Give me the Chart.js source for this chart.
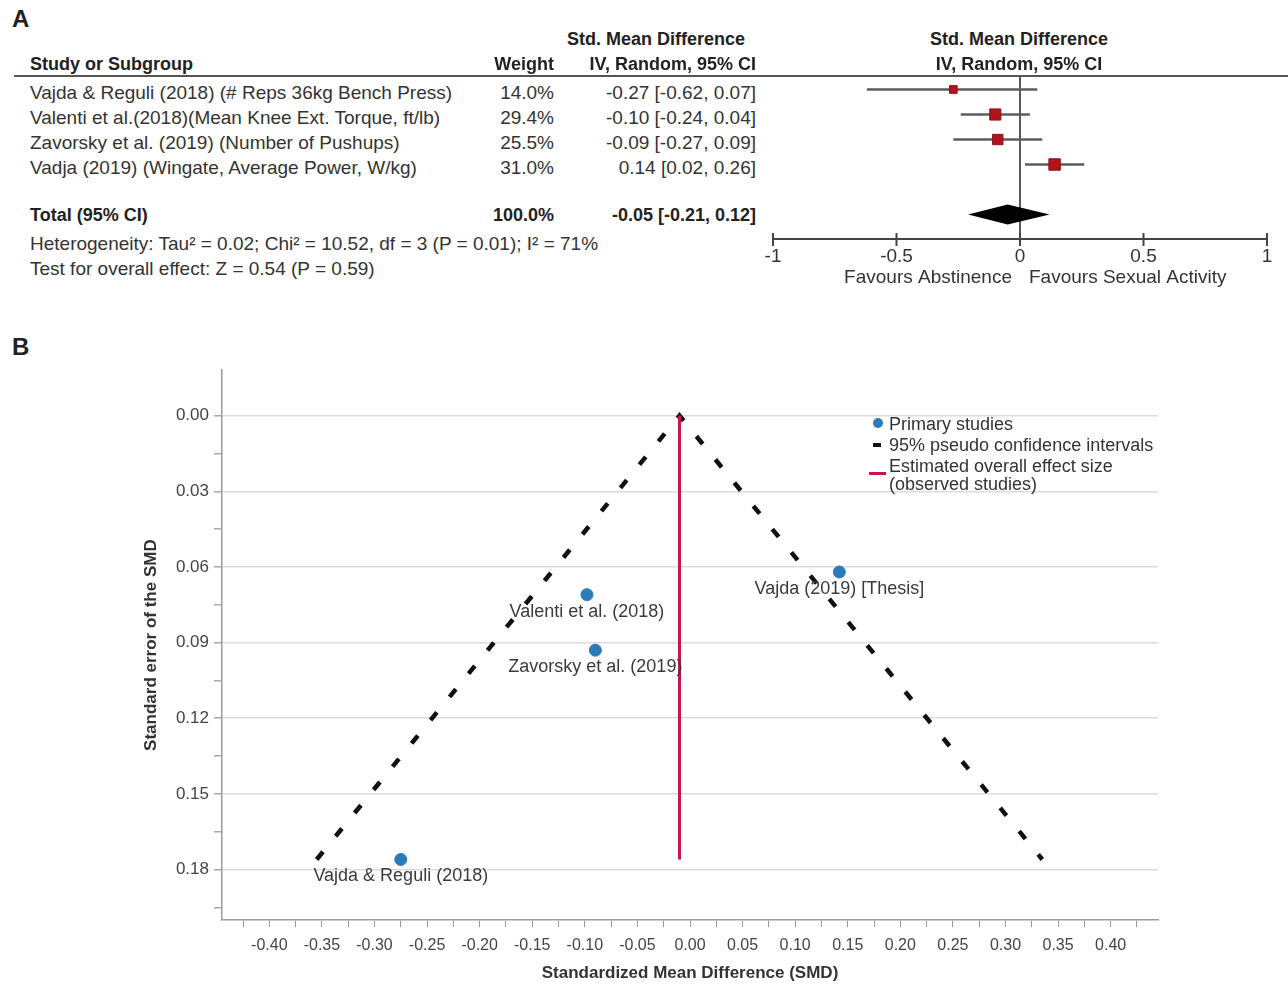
<!DOCTYPE html>
<html>
<head>
<meta charset="utf-8">
<script src="https://cdn.jsdelivr.net/npm/chart.js@4.4.1/dist/chart.umd.min.js"></script>
<style>
  body { margin: 0; background: #fff; width: 1288px; height: 986px; overflow: hidden; position: relative;
         font-family: "Liberation Sans", Arial, sans-serif; color: #333; }
  .t { position: absolute; white-space: nowrap; font-size: 19px; line-height: 20px; }
  .b { font-weight: bold; color: #222; font-size: 18px; }
  .lg { font-size: 18px; }
  canvas { position: absolute; }
  .mk { position: absolute; }
</style>
</head>
<body>
<canvas id="forest" width="528" height="240" style="left:760px;top:60px;width:528px;height:240px"></canvas>
<canvas id="funnel" width="1158" height="631" style="left:130px;top:355px;width:1158px;height:631px"></canvas>

<div class="mk" style="left:873px;top:418px;width:10px;height:10px;border-radius:50%;background:#2b7bba"></div>
<div class="mk" style="left:873px;top:443px;width:8px;height:4px;background:#111"></div>
<div class="mk" style="left:869px;top:472px;width:17px;height:3px;background:#c8174a"></div>

<script>
// ---- panel A: forest plot data
const studyNames = [
    'Vajda & Reguli (2018) (# Reps 36kg Bench Press)',
    'Valenti et al.(2018)(Mean Knee Ext. Torque, ft/lb)',
    'Zavorsky et al. (2019) (Number of Pushups)',
    'Vadja (2019) (Wingate, Average Power, W/kg)'
];
const weights = [14.0, 29.4, 25.5, 31.0];
const smd = [-0.27, -0.10, -0.09, 0.14];
const ciLow = [-0.62, -0.24, -0.27, 0.02];
const ciHigh = [0.07, 0.04, 0.09, 0.26];
const totalSmd = -0.05;
const totalLow = -0.21;
const totalHigh = 0.12;
const forestTicks = [-1, -0.5, 0, 0.5, 1];
const forestTickLabels = ['-1', '-0.5', '0', '0.5', '1'];

// ---- panel B: funnel plot data
const funnelLabels = ['Vajda & Reguli (2018)', 'Valenti et al. (2018)', 'Zavorsky et al. (2019)', 'Vajda (2019) [Thesis]'];
const funnelSmd = [-0.275, -0.098, -0.09, 0.142];
const funnelSe = [0.176, 0.071, 0.093, 0.062];
const pseudoX = [-0.355, -0.01, 0.335];
const pseudoY = [0.176, 0, 0.176];
const overallX = [-0.01, -0.01];
const overallY = [0, 0.176];

// ---- text of panel A
function txt(html, x, cy, opts) {
    opts = opts || {};
    const d = document.createElement('div');
    d.className = 't' + (opts.bold ? ' b' : '') + (opts.cls ? ' ' + opts.cls : '');
    d.innerHTML = html;
    d.style.top = (cy - 10) + 'px';
    if (opts.align === 'right') {
        d.style.right = (1288 - x) + 'px';
    } else if (opts.align === 'center') {
        d.style.left = (x - 200) + 'px';
        d.style.width = '400px';
        d.style.textAlign = 'center';
    } else {
        d.style.left = x + 'px';
    }
    if (opts.size) { d.style.fontSize = opts.size + 'px'; d.style.lineHeight = (opts.size + 2) + 'px'; d.style.top = (cy - opts.size / 2 - 1) + 'px'; }
    document.body.appendChild(d);
}

function fmt(v) { return v.toFixed(2); }

txt('A', 12, 19, {bold: true, size: 24});
txt('B', 12, 347, {bold: true, size: 24});
txt('Std. Mean Difference', 656, 39, {bold: true, align: 'center'});
txt('Std. Mean Difference', 1019, 39, {bold: true, align: 'center'});
txt('Study or Subgroup', 30, 64, {bold: true});
txt('Weight', 554, 64, {bold: true, align: 'right'});
txt('IV, Random, 95% CI', 756, 64, {bold: true, align: 'right'});
txt('IV, Random, 95% CI', 1019, 64, {bold: true, align: 'center'});

studyNames.forEach(function (name, i) {
    const cy = 93 + i * 25;
    txt(name.replace('&', '&amp;'), 30, cy);
    txt(weights[i].toFixed(1) + '%', 554, cy, {align: 'right'});
    txt(fmt(smd[i]) + ' [' + fmt(ciLow[i]) + ', ' + fmt(ciHigh[i]) + ']', 756, cy, {align: 'right'});
});
txt('Total (95% CI)', 30, 215, {bold: true});
txt('100.0%', 554, 215, {bold: true, align: 'right'});
txt(fmt(totalSmd) + ' [' + fmt(totalLow) + ', ' + fmt(totalHigh) + ']', 756, 215, {bold: true, align: 'right'});
txt('Heterogeneity: Tau² = 0.02; Chi² = 10.52, df = 3 (P = 0.01); I² = 71%', 30, 244);
txt('Test for overall effect: Z = 0.54 (P = 0.59)', 30, 269);

// header rule
const rule = document.createElement('div');
rule.className = 'mk';
rule.style.cssText = 'left:14px;top:75px;width:1274px;height:2px;background:#555';
document.body.appendChild(rule);

// legend of panel B
txt('Primary studies', 889, 424, {cls: 'lg'});
txt('95% pseudo confidence intervals', 889, 445, {cls: 'lg'});
txt('Estimated overall effect size', 889, 466, {cls: 'lg'});
txt('(observed studies)', 889, 484, {cls: 'lg'});

// ---- forest plot
const forestDecor = {
    id: 'forestDecor',
    beforeDatasetsDraw(chart) {
        const {ctx, chartArea, scales: {x}} = chart;
        const x0 = x.getPixelForValue(0);
        const yb = chartArea.bottom;
        ctx.save();
        ctx.strokeStyle = '#222';
        ctx.lineWidth = 1.5;
        ctx.beginPath();
        ctx.moveTo(x0, chartArea.top);
        ctx.lineTo(x0, yb);
        ctx.stroke();

        ctx.strokeStyle = '#444';
        ctx.lineWidth = 2;
        ctx.beginPath();
        ctx.moveTo(x.getPixelForValue(forestTicks[0]), yb);
        ctx.lineTo(x.getPixelForValue(forestTicks[forestTicks.length - 1]), yb);
        forestTicks.forEach(function (t) {
            const px = x.getPixelForValue(t);
            ctx.moveTo(px, yb - 6);
            ctx.lineTo(px, yb + 7);
        });
        ctx.stroke();

        ctx.fillStyle = '#333';
        ctx.font = '19px "Liberation Sans", Arial, sans-serif';
        ctx.textBaseline = 'middle';
        ctx.textAlign = 'center';
        forestTicks.forEach(function (t, i) {
            ctx.fillText(forestTickLabels[i], x.getPixelForValue(t), yb + 18);
        });
        ctx.textAlign = 'right';
        ctx.fillText('Favours Abstinence', x0 - 8, yb + 39);
        ctx.textAlign = 'left';
        ctx.fillText('Favours Sexual Activity', x0 + 9, yb + 39);
        ctx.restore();
    },
    afterDatasetsDraw(chart) {
        const {ctx, scales: {x, y}} = chart;
        const cy = y.getPixelForValue(studyNames.length + 2);
        ctx.save();
        ctx.fillStyle = '#000';
        ctx.beginPath();
        ctx.moveTo(x.getPixelForValue(totalLow), cy);
        ctx.lineTo(x.getPixelForValue(totalSmd), cy - 10);
        ctx.lineTo(x.getPixelForValue(totalHigh), cy);
        ctx.lineTo(x.getPixelForValue(totalSmd), cy + 10);
        ctx.closePath();
        ctx.fill();
        ctx.restore();
    }
};

const forestSets = [{
    type: 'scatter',
    data: smd.map(function (v, i) { return {x: v, y: i + 1}; }),
    pointStyle: 'rect',
    pointRadius: weights.map(function (w) { return 1.45 * Math.sqrt(w); }),
    backgroundColor: '#b3141c',
    borderColor: '#8a1016',
    borderWidth: 1
}];
studyNames.forEach(function (n, i) {
    forestSets.push({
        type: 'line',
        data: [{x: ciLow[i], y: i + 1}, {x: ciHigh[i], y: i + 1}],
        borderColor: '#5c5c5c',
        borderWidth: 2.5,
        pointRadius: 0
    });
});

new Chart(document.getElementById('forest'), {
    type: 'scatter',
    data: {datasets: forestSets},
    options: {
        responsive: false,
        animation: false,
        events: [],
        layout: {padding: {left: 13, right: 21, top: 16, bottom: 61}},
        plugins: {legend: {display: false}, tooltip: {enabled: false}},
        scales: {
            x: {type: 'linear', min: -1, max: 1, display: false},
            y: {type: 'linear', min: 0.46, max: 6.98, reverse: true, display: false}
        }
    },
    plugins: [forestDecor]
});

// ---- funnel plot
function isMajor(v) {
    return Math.abs(Math.round(v / 0.03) * 0.03 - v) < 1e-6;
}

const pointLabels = {
    id: 'pointLabels',
    afterDatasetsDraw(chart) {
        const {ctx, scales: {x, y}} = chart;
        ctx.save();
        ctx.fillStyle = '#3a3a3a';
        ctx.font = '18px "Liberation Sans", Arial, sans-serif';
        ctx.textAlign = 'center';
        ctx.textBaseline = 'middle';
        funnelLabels.forEach(function (lab, i) {
            ctx.fillText(lab, x.getPixelForValue(funnelSmd[i]), y.getPixelForValue(funnelSe[i]) + 17);
        });
        ctx.restore();
    }
};

new Chart(document.getElementById('funnel'), {
    type: 'scatter',
    data: {
        datasets: [{
            label: 'Primary studies',
            data: funnelSmd.map(function (v, i) { return {x: v, y: funnelSe[i]}; }),
            backgroundColor: '#2b7bba',
            borderColor: '#2b7bba',
            pointRadius: 6
        }, {
            type: 'line',
            label: 'Estimated overall effect size (observed studies)',
            data: overallX.map(function (v, i) { return {x: v, y: overallY[i]}; }),
            borderColor: '#c8174a',
            borderWidth: 3,
            pointRadius: 0
        }, {
            type: 'line',
            label: '95% pseudo confidence intervals',
            data: pseudoX.map(function (v, i) { return {x: v, y: pseudoY[i]}; }),
            borderColor: '#111',
            borderWidth: 4.5,
            borderDash: [10, 20],
            pointRadius: 0
        }]
    },
    options: {
        responsive: false,
        animation: false,
        events: [],
        layout: {padding: {left: 0, right: 130, top: 13, bottom: 0}},
        plugins: {legend: {display: false}, tooltip: {enabled: false}},
        scales: {
            x: {
                type: 'linear',
                min: -0.445,
                max: 0.445,
                border: {color: '#9a9a9a', width: 1.5},
                grid: {drawOnChartArea: false, tickLength: 7, tickColor: '#9a9a9a'},
                ticks: {
                    stepSize: 0.025,
                    includeBounds: false,
                    autoSkip: false,
                    maxRotation: 0,
                    padding: 9,
                    color: '#444',
                    font: {family: '"Liberation Sans", Arial, sans-serif', size: 16},
                    callback: function (v) {
                        return Math.abs(Math.round(v / 0.05) * 0.05 - v) < 1e-6 ? (Math.round(v * 100) / 100).toFixed(2) : '';
                    }
                },
                title: {
                    display: true,
                    text: 'Standardized Mean Difference (SMD)',
                    color: '#333',
                    font: {family: '"Liberation Sans", Arial, sans-serif', size: 17, weight: 'bold'},
                    padding: {top: 0, bottom: 2}
                },
                afterFit: function (s) { s.height = 66; }
            },
            y: {
                type: 'linear',
                reverse: true,
                min: -0.018,
                max: 0.2,
                border: {color: '#9a9a9a', width: 1.5},
                grid: {
                    color: function (c) { return c.tick && isMajor(c.tick.value) ? '#dcdcdc' : 'rgba(0,0,0,0)'; },
                    lineWidth: 1.5,
                    tickLength: 8,
                    tickColor: function (c) { return c.tick && c.tick.value < 0 ? 'rgba(0,0,0,0)' : '#a8a8a8'; }
                },
                ticks: {
                    stepSize: 0.015,
                    includeBounds: false,
                    padding: 5,
                    color: '#444',
                    font: {family: '"Liberation Sans", Arial, sans-serif', size: 17},
                    callback: function (v) { return v >= 0 && isMajor(v) ? (Math.round(v * 100) / 100).toFixed(2) : ''; }
                },
                title: {
                    display: true,
                    text: 'Standard error of the SMD',
                    color: '#333',
                    font: {family: '"Liberation Sans", Arial, sans-serif', size: 17, weight: 'bold'},
                    padding: {top: 11, bottom: 0}
                },
                afterFit: function (s) { s.width = 92; }
            }
        }
    },
    plugins: [pointLabels]
});
</script>
</body>
</html>
